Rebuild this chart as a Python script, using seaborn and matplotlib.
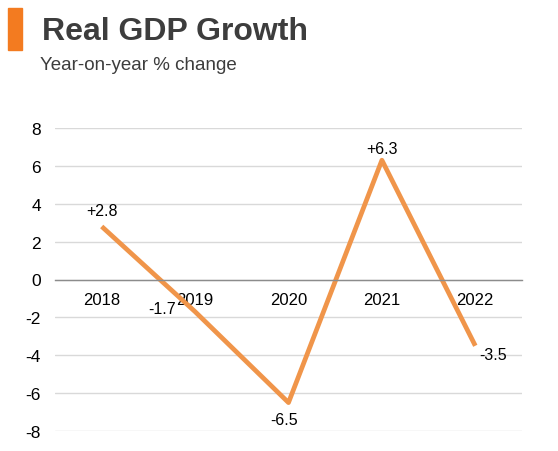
import matplotlib
matplotlib.use("Agg")
import matplotlib.pyplot as plt
import matplotlib.patches as mpatches
import seaborn as sns
import pandas as pd

years = ["2018", "2019", "2020", "2021", "2022"]
growth = [2.8, -1.7, -6.5, 6.3, -3.5]
labels = ["+2.8", "-1.7", "-6.5", "+6.3", "-3.5"]
yticks = [-8, -6, -4, -2, 0, 2, 4, 6, 8]

sns.set_theme(style="white")
plt.rcParams['font.family'] = ['Liberation Sans', 'DejaVu Sans']

df = pd.DataFrame({"year": years, "growth": growth})

fig = plt.figure(figsize=(5.58, 4.52), dpi=100)
ax = fig.add_axes([55/558, 1-432/452, (522-55)/558, (432-129)/452])

sns.lineplot(data=df, x="year", y="growth", ax=ax, color="#F0954A", linewidth=3.4,
             sort=False, solid_capstyle="butt")

ax.set_xlim(-0.5, 4.5)
ax.set_ylim(-8, 8)
ax.set_yticks(yticks)
ax.set_yticklabels([str(t) for t in yticks], fontsize=12.5, color="#000000")
ax.yaxis.grid(True, color="#d9d9d9", linewidth=1)
ax.set_axisbelow(True)
for s in ["top", "right", "left"]:
    ax.spines[s].set_visible(False)
ax.spines["bottom"].set_position(("data", 0))
ax.spines["bottom"].set_color("#8c8c8c")
ax.spines["bottom"].set_linewidth(1)
ax.tick_params(axis="x", length=0, pad=9, labelsize=12, labelcolor="#000000")
ax.tick_params(axis="y", length=0, pad=10)
ax.set_xlabel("")
ax.set_ylabel("")

offsets = [(0, 6, "center", "bottom"), (-24, 2, "center", "center"),
           (-3, -7, "center", "top"), (0, 3, "center", "bottom"), (13, -6, "center", "center")]
for i, (v, t) in enumerate(zip(growth, labels)):
    dx, dy, ha, va = offsets[i]
    ax.annotate(t, (i, v), xytext=(dx, dy), textcoords="offset points",
                ha=ha, va=va, fontsize=11.5, color="#000000")

fig.patches.append(mpatches.Rectangle((8/558, 1-51/452), 14/558, 42/452,
                                      transform=fig.transFigure, color="#F37B20"))
fig.text(42/558, 1-32/452, "Real GDP Growth", fontsize=23, fontweight="bold",
         color="#3d3d3d", va="center", ha="left")
fig.text(40/558, 1-66/452, "Year-on-year % change", fontsize=13.5,
         color="#3d3d3d", va="center", ha="left")

fig.savefig("out.png", dpi=100, facecolor="white")
